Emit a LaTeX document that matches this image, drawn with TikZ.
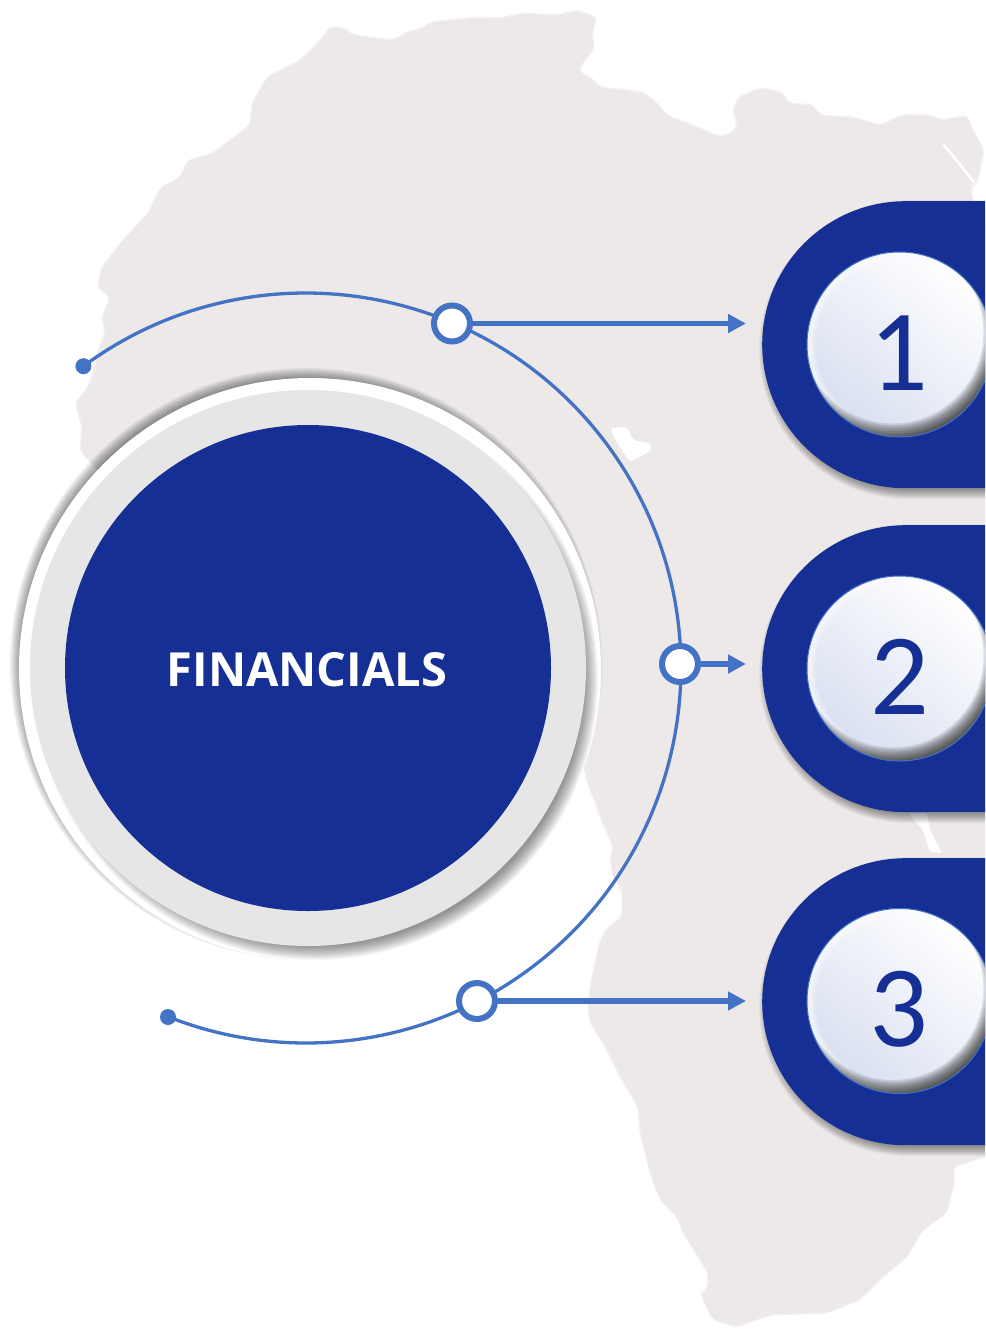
\documentclass[tikz,border=0pt]{standalone}
\usepackage{fontspec}
\setmainfont{Open Sans}
\newfontfamily\digitfont{Carlito}
\usetikzlibrary{arrows.meta,shadings}
\definecolor{navy}{RGB}{21,47,149}
\definecolor{linkblue}{RGB}{68,114,196}
\definecolor{mapgrey}{RGB}{236,233,232}
\definecolor{ringgrey}{RGB}{230,230,230}
\definecolor{balltint}{RGB}{216,223,240}
\tikzset{
  mapshape/.style={fill=mapgrey,draw=mapgrey!60!white,line width=1.2pt,rounded corners=5pt},
  pillbox/.style={fill=navy,rounded corners=143.5pt,minimum width=400pt,minimum height=287pt,inner sep=0pt,anchor=north west},
  ballbox/.style={circle,minimum size=185pt,inner sep=0pt},
  digit/.style={text=navy,inner sep=0pt,font=\digitfont\fontsize{116}{116}\selectfont},
  title/.style={text=white,inner sep=0pt,font=\bfseries\fontsize{47}{47}\selectfont},
  ringnode/.style={circle,draw=linkblue,line width=6pt,fill=white,minimum size=36pt,inner sep=0pt},
  endnode/.style={circle,fill=linkblue,minimum size=16pt,inner sep=0pt},
  arcline/.style={draw=linkblue,line width=3.3pt},
  arrowline/.style={draw=linkblue,line width=5.5pt,-{Triangle[length=18pt,width=18pt]}}
}
\newcommand{\softdisc}[6]{% cx cy rOuter rInner layers alpha
  \foreach \k in {1,...,#5}{
    \pgfmathsetmacro{\rr}{#3-(#3-#4)*(\k-1)/(#5-1)}
    \fill[black,opacity=#6] (#1,#2) circle[radius=\rr pt];
  }}
\newcommand{\pillshadow}[2]{% top bottom
  \foreach \k in {1,...,10}{
    \pgfmathsetmacro{\gr}{7-\k}
    \pgfmathsetmacro{\xa}{765-\gr}
    \pgfmathsetmacro{\ya}{#1+5-\gr}
    \pgfmathsetmacro{\yb}{#2+5+\gr}
    \pgfmathsetmacro{\rc}{143.4+\gr}
    \fill[black,opacity=.045,rounded corners=\rc pt] (\xa,\ya) rectangle (1200,\yb);
  }}
\newcommand{\ballfx}[1]{% node name
  \begin{scope}
    \clip (#1.center) circle[radius=92.5pt];
    \shade[shading=axis,bottom color=balltint,middle color=white,top color=white,shading angle=-40]
      (#1.center) circle[radius=92.5pt];
    \foreach \k in {1,...,7}{
      \pgfmathsetmacro{\rr}{92.5-\k*1.2}
      \fill[white,opacity=.16,even odd rule] (#1.center) circle[radius=94pt] (#1.center) circle[radius=\rr pt];
    }
    \foreach \k in {0,...,9}{
      \pgfmathsetmacro{\rr}{91+\k*1.6}
      \fill[black,opacity=.1,even odd rule] (#1.center) circle[radius=130pt]
        ([shift={(-7pt,12pt)}]#1.center) circle[radius=\rr pt];
    }
  \end{scope}
  \draw[linkblue,line width=1pt] (#1.center) circle[radius=92.5pt];
}
\begin{document}
\begin{tikzpicture}[x=1pt,y=-1pt]
\useasboundingbox (0,0) rectangle (985,1329);
\begin{scope}
\clip (0,0) rectangle (985,1329);
% map
\draw[mapshape] (92,465) -- (80,450) -- (82,427) -- (75,403) -- (88,387) -- (97,360) -- (97,353) -- (105,333) -- (102,317) -- (110,297) -- (97,287) -- (102,267) -- (123,240) -- (148,213) -- (160,188) -- (180,177) -- (188,160) -- (213,153) -- (250,125) -- (252,103) -- (267,77) -- (300,60) -- (318,43) -- (330,27) -- (343,27) -- (353,35) -- (377,38) -- (393,40) -- (407,32) -- (423,28) -- (430,22) -- (477,17) -- (500,18) -- (523,13) -- (557,15) -- (577,10) -- (597,17) -- (592,33) -- (595,48) -- (580,67) -- (580,73) -- (592,78) -- (600,87) -- (643,92) -- (657,103) -- (667,115) -- (700,128) -- (720,137) -- (733,132) -- (738,122) -- (732,113) -- (738,97) -- (760,88) -- (783,92) -- (788,103) -- (813,105) -- (820,115) -- (853,117) -- (880,125) -- (903,115) -- (930,115) -- (943,120) -- (967,115) -- (973,130) -- (984,150) -- (978,180) -- (975,184) -- (971,186) -- (973,201) -- (990,235) -- (990,1155) -- (953,1167) -- (955,1180) -- (947,1213) -- (923,1230) -- (907,1257) -- (883,1277) -- (860,1300) -- (827,1313) -- (770,1315) -- (737,1327) -- (713,1320) -- (708,1310) -- (700,1293) -- (707,1290) -- (708,1273) -- (683,1233) -- (677,1217) -- (660,1200) -- (650,1173) -- (640,1133) -- (638,1107) -- (620,1077) -- (603,1043) -- (590,1023) -- (588,1010) -- (590,987) -- (600,940) -- (607,928) -- (622,917) -- (622,890) -- (613,877) -- (610,860) -- (613,847) -- (600,817) -- (593,797) -- (585,777) -- (585,767) -- (400,700) -- cycle;
% white lakes
\fill[white,rounded corners=3pt] (610,428) -- (627,427) -- (633,440) -- (650,443) -- (652,450) -- (630,462) -- (617,443) -- cycle;
\fill[white,rounded corners=1.5pt] (908,813) -- (927,813) -- (930,830) -- (942,853) -- (930,852) -- (923,830) -- cycle;
\draw[white,line width=2.6pt,line cap=round] (944,145) -- (974,182);
% pills
\pillshadow{201}{488}
\pillshadow{525}{812}
\pillshadow{858}{1145}
\node[pillbox] (p1) at (762,201) {};
\node[pillbox] (p2) at (762,525) {};
\node[pillbox] (p3) at (762,858) {};
% large disc
\softdisc{306}{664}{296}{280}{14}{.05}
\node[circle,fill=white,minimum size=582pt,inner sep=0pt] (outer) at (310,669) {};
\softdisc{316}{678}{282}{268}{14}{.035}
\node[circle,fill=ringgrey,minimum size=556pt,inner sep=0pt] (mid) at (308,668) {};
\node[circle,fill=navy,minimum size=486pt,inner sep=0pt] (core) at (308,668) {};
\node[title] (ttl) at (307,669.5) {FINANCIALS};
% connector
\node[endnode] (d1) at (83.4,366.2) {};
\node[endnode] (d3) at (168,1017) {};
\draw[arcline] (d1.center) arc[start angle=126.4,end angle=-111.6,radius=375pt];
\node[ringnode] (r1) at (452,323.5) {};
\node[ringnode] (r2) at (680,664) {};
\node[ringnode] (r3) at (477,1001) {};
\coordinate (t1) at (746,323.5);
\coordinate (t2) at (746,664);
\coordinate (t3) at (746,1001);
\draw[arrowline] (r1.east) -- (t1);
\draw[arrowline] (r2.east) -- (t2);
\draw[arrowline] (r3.east) -- (t3);
% balls
\node[ballbox] (b1) at (899.5,344.5) {};
\node[ballbox] (b2) at (899.5,668.5) {};
\node[ballbox] (b3) at (899.5,1001) {};
\ballfx{b1}
\ballfx{b2}
\ballfx{b3}
\node[digit] (n1) at (899,353.5) {1};
\node[digit] (n2) at (900,677) {2};
\node[digit] (n3) at (899,1009) {3};
\end{scope}
\end{tikzpicture}
\end{document}
